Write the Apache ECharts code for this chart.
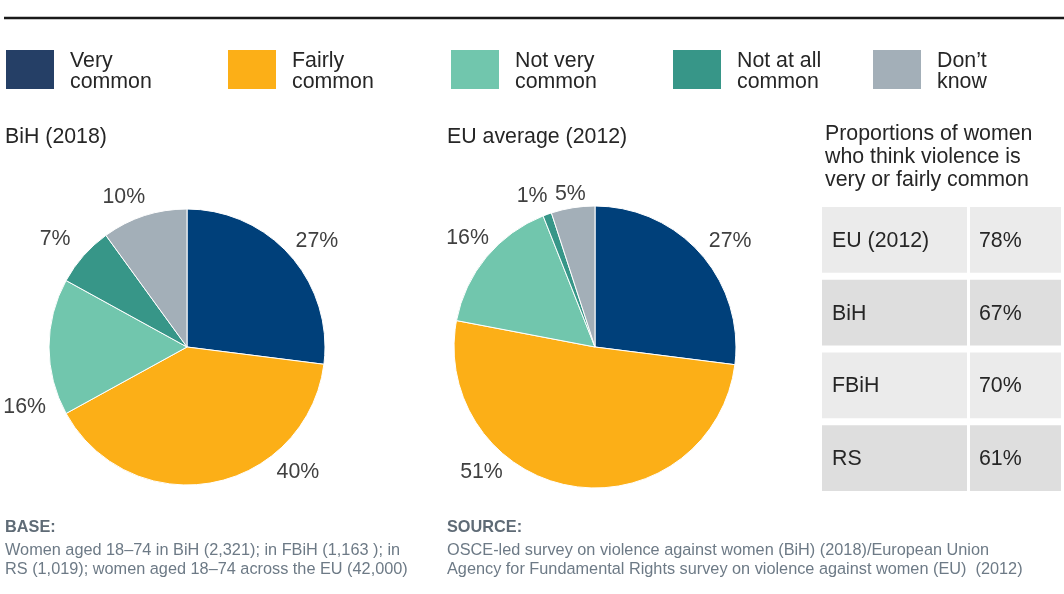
<!DOCTYPE html>
<html>
<head>
<meta charset="utf-8">
<style>
  html, body { margin: 0; padding: 0; background: #ffffff; }
  #chart { width: 1064px; height: 594px; }
</style>
<script src="https://cdn.jsdelivr.net/npm/echarts@6/dist/echarts.min.js"></script>
</head>
<body>
<div id="chart"></div>
<script>
// ---- data ----
const categories = ['Very common', 'Fairly common', 'Not very common', 'Not at all common', 'Don\u2019t know'];
const bihValues = [27, 40, 16, 7, 10];
const euValues = [27, 51, 16, 1, 5];
const pieTitles = ['BiH (2018)', 'EU average (2012)'];
const tableTitle = 'Proportions of women\nwho think violence is\nvery or fairly common';
const tableRows = ['EU (2012)', 'BiH', 'FBiH', 'RS'];
const tableValues = [78, 67, 70, 61];
const baseTitle = 'BASE:';
const baseText = 'Women aged 18\u201374 in BiH (2,321); in FBiH (1,163 ); in\nRS (1,019); women aged 18\u201374 across the EU (42,000)';
const sourceTitle = 'SOURCE:';
const sourceText = 'OSCE-led survey on violence against women (BiH) (2018)/European Union\nAgency for Fundamental Rights survey on violence against women (EU)  (2012)';

// ---- styles ----
const FONT = "'Liberation Sans', Arial, Helvetica, sans-serif";
const BIG = 21.33;
const SMALL = 16.3;
const sliceColors = ['#00407a', '#fcaf17', '#71c6ad', '#379688', '#a3afb8'];
const legendColors = ['#253f66', '#fcaf17', '#71c6ad', '#379688', '#a3afb8'];
const legendLefts = [4, 226, 449, 671, 871];
// label nudges (dx, dy) relative to ECharts' outside label placement
const labelNudge = [
  [[-10, -1], [60, -30], [17, 60], [2, -3], [7, 0]],
  [[-7, 1], [-67, -34], [18, -6], [7, 1], [16, 6]]
];

const chart = echarts.init(document.getElementById('chart'), null, { renderer: 'canvas' });

function pieSeries(values, center, radius, sIdx) {
  return {
    type: 'pie',
    center: center,
    radius: radius,
    startAngle: 90,
    clockwise: true,
    avoidLabelOverlap: false,
    animation: false,
    silent: true,
    itemStyle: { borderColor: '#ffffff', borderWidth: 1 },
    label: {
      show: true,
      position: 'outside',
      formatter: '{c}%',
      fontFamily: FONT,
      fontSize: BIG,
      color: '#404040',
      width: 50,
      distanceToLabelLine: 0
    },
    labelLine: { show: false, length: 20, length2: 0 },
    labelLayout: function (p) {
      const o = labelNudge[sIdx][p.dataIndex];
      return { dx: o[0], dy: o[1] };
    },
    data: categories.map((c, i) => ({ name: c, value: values[i], itemStyle: { color: sliceColors[i] } }))
  };
}

const legends = categories.map((c, i) => ({
  left: legendLefts[i],
  top: 45.8,
  padding: 0,
  orient: 'horizontal',
  selectedMode: false,
  icon: 'rect',
  itemWidth: 50,
  itemHeight: 41,
  data: [{ name: c, itemStyle: { color: legendColors[i] } }],
  formatter: function (name) {
    const k = name.lastIndexOf(' ');
    return '{s|\u200b}\n{t|' + name.slice(0, k) + '}\n{t|' + name.slice(k + 1) + '}';
  },
  textStyle: {
    fontFamily: FONT,
    fontSize: BIG,
    color: '#262626',
    padding: [0, 0, 0, 10],
    rich: {
      s: { fontSize: 4, lineHeight: 4 },
      t: { fontFamily: FONT, fontSize: BIG, lineHeight: 21.7, color: '#262626' }
    }
  }
}));

const tableData = tableRows.map((r, i) => [0, i, tableValues[i]]);

const option = {
  backgroundColor: '#ffffff',
  animation: false,
  legend: legends,
  grid: { left: 822, top: 200, width: 239, height: 291, containLabel: false },
  xAxis: { type: 'value', min: 0, max: 239, show: false },
  yAxis: { type: 'category', data: tableRows, inverse: true, show: false },
  series: [
    pieSeries(bihValues, [187, 347], 138, 0),
    pieSeries(euValues, [595, 347], 141, 1),
    {
      type: 'custom',
      coordinateSystem: 'cartesian2d',
      silent: true,
      encode: { x: 0, y: 1 },
      data: tableData,
      renderItem: function (params, api) {
        const row = api.value(1);
        const idx = params.dataIndex;
        const band = api.size([0, 1])[1];
        const c0 = api.coord([0, row]);
        const c1 = api.coord([145, row]);
        const c2 = api.coord([148, row]);
        const c3 = api.coord([239, row]);
        const yTop = c0[1] - band / 2 + 7;
        const h = band - 7;
        const fill = idx % 2 === 0 ? '#ebebeb' : '#dedede';
        const midY = yTop + h / 2 + 1;
        return {
          type: 'group',
          children: [
            { type: 'rect', shape: { x: c0[0], y: yTop, width: c1[0] - c0[0], height: h }, style: { fill: fill } },
            { type: 'rect', shape: { x: c2[0], y: yTop, width: c3[0] - c2[0], height: h }, style: { fill: fill } },
            { type: 'text', x: c0[0] + 10, y: midY, style: { text: tableRows[idx], fontFamily: FONT, fontSize: BIG, fill: '#262626', verticalAlign: 'middle', align: 'left' } },
            { type: 'text', x: c2[0] + 9, y: midY, style: { text: api.value(2) + '%', fontFamily: FONT, fontSize: BIG, fill: '#262626', verticalAlign: 'middle', align: 'left' } }
          ]
        };
      }
    }
  ],
  graphic: [
    { type: 'line', shape: { x1: 4, y1: 18, x2: 1064, y2: 18 }, style: { stroke: '#1a1a1a', lineWidth: 2.5 } },
    { type: 'text', x: 5, y: 137, style: { text: pieTitles[0], fontFamily: FONT, fontSize: BIG, fill: '#262626', verticalAlign: 'middle' } },
    { type: 'text', x: 447, y: 137, style: { text: pieTitles[1], fontFamily: FONT, fontSize: BIG, fill: '#262626', verticalAlign: 'middle' } },
    { type: 'text', x: 825, y: 157, style: { text: tableTitle, fontFamily: FONT, fontSize: BIG, lineHeight: 23, fill: '#262626', verticalAlign: 'middle' } },
    { type: 'text', x: 5, y: 527.6, style: { text: baseTitle, fontFamily: FONT, fontSize: SMALL, fontWeight: 'bold', fill: '#5f6b76', verticalAlign: 'middle' } },
    { type: 'text', x: 5, y: 560, style: { text: baseText, fontFamily: FONT, fontSize: SMALL, lineHeight: 18.5, fill: '#6d7a86', verticalAlign: 'middle' } },
    { type: 'text', x: 447, y: 527.6, style: { text: sourceTitle, fontFamily: FONT, fontSize: SMALL, fontWeight: 'bold', fill: '#5f6b76', verticalAlign: 'middle' } },
    { type: 'text', x: 447, y: 560, style: { text: sourceText, fontFamily: FONT, fontSize: SMALL, lineHeight: 18.5, fill: '#6d7a86', verticalAlign: 'middle' } }
  ]
};

chart.setOption(option);
</script>
</body>
</html>
